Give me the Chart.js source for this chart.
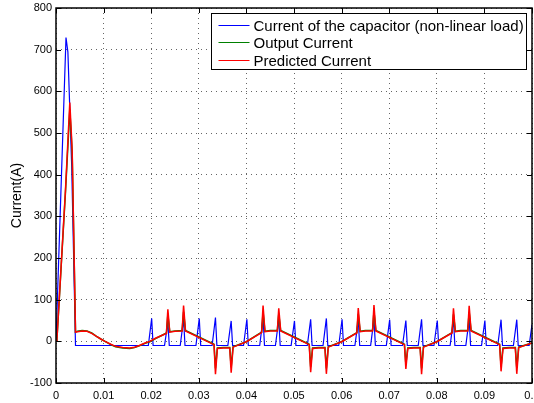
<!DOCTYPE html>
<html>
<head>
<meta charset="utf-8">
<title>Current</title>
<script src="https://cdn.jsdelivr.net/npm/chart.js@4.4.1/dist/chart.umd.min.js"></script>
<style>
html, body { margin: 0; padding: 0; background: #fff; }
canvas { display: block; }
</style>
</head>
<body>
<canvas id="chartCurrent" width="534" height="403"></canvas>
<script>
const xTicks = [0, 0.01, 0.02, 0.03, 0.04, 0.05, 0.06, 0.07, 0.08, 0.09, 0.1]
const yTicks = [-100, 0, 100, 200, 300, 400, 500, 600, 700, 800]

// capacitor current of the rectifier load
const capT = [0, 0.0021, 0.0025, 0.0033, 0.0041,
    0.0194, 0.0201, 0.0204, 0.0228, 0.0235, 0.0238, 0.0261, 0.0268, 0.0271,
    0.0294, 0.0301, 0.0304, 0.0328, 0.0335, 0.0338, 0.0361, 0.0368, 0.0371,
    0.0394, 0.0401, 0.0404, 0.0428, 0.0435, 0.0438, 0.0461, 0.0468, 0.0471,
    0.0494, 0.0501, 0.0504, 0.0528, 0.0535, 0.0538, 0.0561, 0.0568, 0.0571,
    0.0594, 0.0601, 0.0604, 0.0628, 0.0635, 0.0638, 0.0661, 0.0668, 0.0671,
    0.0694, 0.0701, 0.0704, 0.0728, 0.0735, 0.0738, 0.0761, 0.0768, 0.0771,
    0.0794, 0.0801, 0.0804, 0.0828, 0.0835, 0.0838, 0.0861, 0.0868, 0.0871,
    0.0894, 0.0901, 0.0904, 0.0928, 0.0935, 0.0938, 0.0961, 0.0968, 0.0971,
    0.0994, 0.1]
const capI = [0, 729, 694, 421, -10,
    -10, 55, -10, -10, 45, -10, -10, 53, -10,
    -10, 55, -10, -10, 57, -10, -10, 49, -10,
    -10, 53, -10, -10, 57, -10, -10, 53, -10,
    -10, 49, -10, -10, 53, -10, -10, 55, -10,
    -10, 53, -10, -10, 51, -10, -10, 53, -10,
    -10, 52, -10, -10, 50, -10, -10, 53, -10,
    -10, 50, -10, -10, 52, -10, -10, 53, -10,
    -10, 50, -10, -10, 52, -10, -10, 52, -10,
    -10, 40]

// output and predicted current share the sample times
const filtT = [0, 0.0002, 0.0020, 0.0029, 0.0032, 0.0034, 0.0041,
    0.0045, 0.0055, 0.0065, 0.0075, 0.0085, 0.0095, 0.0103, 0.0115, 0.0125,
    0.0140, 0.0155, 0.0165, 0.0175, 0.0187, 0.0197, 0.0210, 0.0222,
    0.0232, 0.0235, 0.0239, 0.0250, 0.0265, 0.0268, 0.0272, 0.0332, 0.0335, 0.0339, 0.0352, 0.0365, 0.0368, 0.0372, 0.0400,
    0.0432, 0.0435, 0.0439, 0.0450, 0.0465, 0.0468, 0.0472, 0.0532, 0.0535, 0.0539, 0.0552, 0.0565, 0.0568, 0.0572, 0.0600,
    0.0632, 0.0635, 0.0639, 0.0650, 0.0665, 0.0668, 0.0672, 0.0732, 0.0735, 0.0739, 0.0752, 0.0765, 0.0768, 0.0772, 0.0800,
    0.0832, 0.0835, 0.0839, 0.0850, 0.0865, 0.0868, 0.0872, 0.0932, 0.0935, 0.0939, 0.0952, 0.0965, 0.0968, 0.0972, 0.1000]
const outI = [0, 5, 360, 556, 495, 450, 22,
    24, 26, 25, 20, 12, 5, 0, -8, -13,
    -16, -17, -15, -11, -5, -1, 7, 14,
    20, 64, 23, 25, 26, 71, 26, -7, -65, -16, -15, -15, -62, -13, -1,
    22, 71, 24, 26, 26, 66, 26, -7, -61, -16, -15, -15, -65, -13, -1,
    21, 66, 24, 26, 26, 72, 26, -7, -55, -16, -15, -15, -65, -13, -1,
    21, 65, 24, 26, 26, 70, 26, -7, -60, -16, -15, -15, -64, -14, -4]
const predI = [0, 5, 365, 573, 505, 455, 22,
    23, 25, 24, 19, 12, 5, 0, -7, -12,
    -15, -16, -14, -10, -4, 0, 8, 14,
    19, 77, 22, 24, 25, 86, 25, -8, -79, -17, -16, -16, -75, -14, -1,
    21, 86, 23, 25, 25, 79, 25, -8, -74, -17, -16, -16, -78, -14, -1,
    20, 80, 23, 25, 25, 87, 25, -8, -66, -17, -16, -16, -79, -14, -1,
    20, 79, 23, 25, 25, 85, 25, -8, -72, -17, -16, -16, -78, -15, -4]

const FONT = 'Liberation Sans, Arial, Helvetica, sans-serif'

function toPoints(ts, vs) {
    return ts.map((t, i) => ({ x: t, y: vs[i] }))
}

// box frame, inward ticks on all sides and the boxed legend
const framePlugin = {
    id: 'framePlugin',
    afterDatasetsDraw(chart) {
        const { ctx, chartArea: a, scales } = chart
        ctx.save()
        ctx.strokeStyle = '#000'
        ctx.lineWidth = 1
        ctx.beginPath()
        scales.x.ticks.forEach(t => {
            const px = Math.round(scales.x.getPixelForValue(t.value)) + 0.5
            ctx.moveTo(px, a.bottom); ctx.lineTo(px, a.bottom - 5)
            ctx.moveTo(px, a.top); ctx.lineTo(px, a.top + 5)
        })
        scales.y.ticks.forEach(t => {
            const py = Math.round(scales.y.getPixelForValue(t.value)) + 0.5
            ctx.moveTo(a.left, py); ctx.lineTo(a.left + 5, py)
            ctx.moveTo(a.right, py); ctx.lineTo(a.right - 5, py)
        })
        ctx.stroke()
        ctx.lineWidth = 1.5
        ctx.strokeRect(a.left, a.top, a.right - a.left, a.bottom - a.top)

        // legend
        const sets = chart.data.datasets
        ctx.font = '15px ' + FONT
        const textW = Math.max(...sets.map(d => ctx.measureText(d.label).width))
        const boxW = Math.round(7 + 31 + 4 + textW + 3)
        const boxH = 56
        const bx = Math.round(a.right - 6 - boxW) + 0.5
        const by = Math.round(a.top + 5) + 0.5
        ctx.fillStyle = '#fff'
        ctx.fillRect(bx, by, boxW, boxH)
        ctx.lineWidth = 1
        ctx.strokeStyle = '#000'
        ctx.strokeRect(bx, by, boxW, boxH)
        ctx.textBaseline = 'middle'
        sets.forEach((d, i) => {
            const ry = Math.round(by + 11 + i * 17.5) + 0.5
            ctx.strokeStyle = d.borderColor
            ctx.lineWidth = 1
            ctx.beginPath()
            ctx.moveTo(bx + 7, ry)
            ctx.lineTo(bx + 38, ry)
            ctx.stroke()
            ctx.fillStyle = '#000'
            ctx.fillText(d.label, bx + 42, ry + 1)
        })
        ctx.restore()
    }
}

const gridOpts = { color: 'rgba(0,0,0,0.6)', lineWidth: 1, drawTicks: false }
const tickFont = { family: FONT, size: 11 }

var ctxCurrent = document.getElementById('chartCurrent').getContext('2d')
var chartCurrent = new Chart(ctxCurrent, {
    type: 'line',
    data: {
        datasets: [
            { label: 'Current of the capacitor (non-linear load)', data: toPoints(capT, capI),
              borderColor: '#0000ff', borderWidth: 1.2, order: 3 },
            { label: 'Output Current', data: toPoints(filtT, outI),
              borderColor: '#008000', borderWidth: 1.5, order: 2 },
            { label: 'Predicted Current', data: toPoints(filtT, predI),
              borderColor: '#ff0000', borderWidth: 1.5, order: 1 }
        ]
    },
    options: {
        responsive: false,
        animation: false,
        elements: { point: { radius: 0 }, line: { tension: 0, fill: false } },
        layout: { padding: { top: 8, right: 2, left: 0, bottom: 0 } },
        plugins: { legend: { display: false }, tooltip: { enabled: false } },
        scales: {
            x: {
                type: 'linear', min: 0, max: 0.1,
                afterBuildTicks: s => { s.ticks = xTicks.map(v => ({ value: v })) },
                afterFit: s => { s.height = 20; s.paddingLeft = 0; s.paddingRight = 0 },
                grid: gridOpts,
                border: { display: false, dash: [1, 4] },
                ticks: { padding: 6, maxRotation: 0, autoSkip: false, color: '#000', font: tickFont,
                         callback: v => String(+v.toFixed(2)) }
            },
            y: {
                min: -100, max: 800,
                afterBuildTicks: s => { s.ticks = yTicks.map(v => ({ value: v })) },
                afterFit: s => { s.width = 56; s.paddingTop = 0; s.paddingBottom = 0 },
                grid: gridOpts,
                border: { display: false, dash: [1, 4] },
                ticks: { padding: 4, color: '#000', font: tickFont, callback: v => String(v) },
                title: { display: true, text: 'Current(A)', color: '#000',
                         font: { family: FONT, size: 14 }, padding: { top: 9, bottom: 0 } }
            }
        }
    },
    plugins: [framePlugin]
})
</script>
</body>
</html>
